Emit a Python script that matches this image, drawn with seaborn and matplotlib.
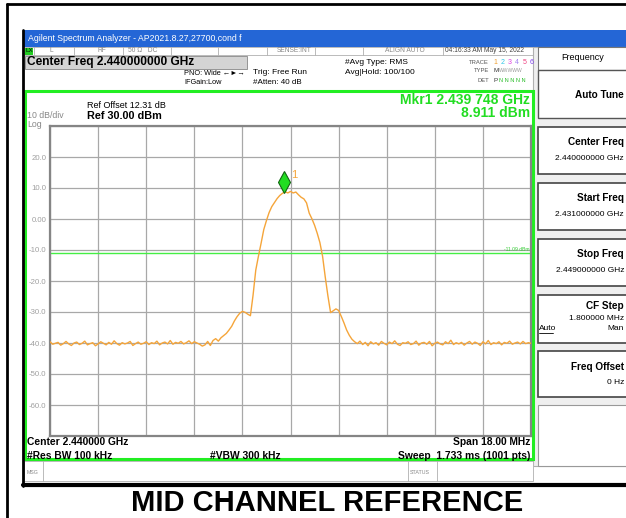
import numpy as np
import matplotlib
matplotlib.use("Agg")
import matplotlib.pyplot as plt
import matplotlib.transforms as mtransforms
from matplotlib.patches import Rectangle
import seaborn as sns

# sweep settings
start_ghz = 2.431
stop_ghz = 2.449
ref_level = 30.0
db_per_div = 10.0

# trace, dBm, every 0.1 MHz from start to stop
trace_dbm = [
    -39.6, -40.4, -40.1, -39.8, -40.7, -40.2, -39.5, -40.3, -40.8, -40.0,
    -39.7, -40.5, -40.1, -39.4, -40.6, -40.2, -39.9, -40.9, -40.3, -39.6,
    -40.1, -40.6, -39.8, -40.4, -39.3, -40.2, -40.7, -39.9, -40.3, -40.0,
    -39.5, -40.8, -40.2, -39.7, -40.4, -40.1, -39.6, -40.5, -39.9, -40.2,
    -39.4, -40.6, -40.0, -39.7, -40.3, -39.2, -40.4, -39.8, -40.1, -39.5,
    -40.3, -39.9, -39.3, -40.2, -39.6, -40.0,
    -40.4, -41.0, -40.6, -39.5, -40.8, -39.2, -38.6, -39.4, -38.3, -37.6,
    -36.9, -35.8, -34.6, -32.9, -31.5,
    -30.4, -29.8, -30.1, -30.7, -31.2,
    -24.5, -16.5, -12.0, -7.8, -3.4, -0.5, 2.1, 4.0, 5.3, 6.6,
    7.6, 8.3, 8.8, 8.4, 8.9, 8.4, 8.7, 7.8, 7.0, 6.5,
    5.2, 1.9, 0.1, -2.0, -4.6, -7.6, -12.0, -18.7, -24.8, -30.2,
    -29.6, -29.0, -29.5, -31.4, -33.5, -35.8, -37.5, -38.8, -39.6,
    -40.2, -39.4, -40.5, -39.8, -40.9, -39.6, -40.3, -39.9, -40.7, -39.5,
    -40.1, -40.6, -39.7, -40.2, -39.3, -40.4, -40.8, -39.9, -40.1, -39.6,
    -40.5, -40.2, -39.4, -40.7, -40.0, -39.8, -40.4, -39.5, -40.9, -40.1,
    -39.7, -40.3, -40.6, -39.6, -40.2, -39.1, -40.5, -39.9, -40.3, -39.8,
    -40.7, -40.0, -39.5, -40.4, -39.7, -40.1, -40.8, -39.6, -40.3, -39.2,
    -40.5, -39.9, -40.2, -39.6, -40.6, -39.8, -40.1, -39.4, -40.4, -40.0,
    -39.7, -40.3, -39.5, -40.2, -39.9, -40.1,
]

# marker and display line
mkr_freq = 2.439748
mkr_level = 8.911
display_line = -11.09

ytick_vals = [-70, -60, -50, -40, -30, -20, -10, 0, 10, 20, 30]
ytick_labels = ["", "-60.0", "-50.0", "-40.0", "-30.0", "-20.0", "-10.0", "0.00", "10.0", "20.0", ""]

softkeys = [
    ("Center Freq", "2.440000000 GHz"),
    ("Start Freq", "2.431000000 GHz"),
    ("Stop Freq", "2.449000000 GHz"),
]

sns.set_style("white")
plt.rcParams["font.family"] = ["Liberation Sans", "DejaVu Sans"]

W, H = 626, 518
fig = plt.figure(figsize=(W / 100, H / 100), dpi=100)

# background layer in pixel coords
bg = fig.add_axes([0, 0, 1, 1])
bg.set_xlim(0, W)
bg.set_ylim(H, 0)
bg.axis("off")


def box(x0, y0, x1, y1, fc="none", ec="none", lw=1.0, z=1):
    bg.add_patch(Rectangle((x0, y0), x1 - x0, y1 - y0, facecolor=fc, edgecolor=ec, lw=lw, zorder=z))


def txt(x, y, s, size=6, color="black", ha="left", weight="normal", z=5):
    bg.text(x, y, s, fontsize=size, color=color, ha=ha, va="center", fontweight=weight, zorder=z)


# outer page frame
bg.plot([7, 7], [4, H], color="black", lw=2)
bg.plot([7, W], [4, 4], color="black", lw=2)

# screenshot box
box(23, 30, W + 5, 485, fc="white", z=0)
bg.plot([23, 23], [30, 486], color="black", lw=2, zorder=6)
bg.plot([23, W], [485, 485], color="black", lw=3, zorder=6)

# title bar
box(24, 30, W + 5, 47, fc="#2466d6", z=1)
txt(28, 38.5, "Agilent Spectrum Analyzer - AP2021.8.27,27700,cond f", size=6.3, color="white")

# status row
box(24, 47, 533, 55, fc="white", ec="#b0b0b0", lw=0.6)
for xs in [34, 74, 123, 171, 218, 267, 315, 363, 443]:
    bg.plot([xs, xs], [47, 55], color="#b0b0b0", lw=0.6)
box(25, 47.5, 33, 54.5, fc="#22cc22")
txt(26, 51, "LX", size=4.5)
txt(50, 51, "L", size=4.8, color="#888888")
txt(97, 51, "RF", size=4.8, color="#888888")
txt(128, 51, "50 \u03a9   DC", size=4.8, color="#888888")
txt(312, 51, "SENSE:INT", size=4.8, color="#888888", ha="right")
txt(405, 51, "ALIGN AUTO", size=4.8, color="#888888", ha="center")
txt(445, 51, "04:16:33 AM May 15, 2022", size=4.8, color="#444444")

# centre freq header
box(25, 56, 247, 69, fc="#d4d4d4", ec="#888888", lw=0.6)
txt(27, 62.5, "Center Freq 2.440000000 GHz", size=8.6, weight="bold")
txt(184, 73, "PNO: Wide \u2190\u25ba\u2192", size=5.3)
txt(184, 83, "IFGain:Low", size=5.3)
txt(253, 72, "Trig: Free Run", size=6)
txt(253, 82, "#Atten: 40 dB", size=5.8)
txt(345, 62, "#Avg Type: RMS", size=6)
txt(345, 72, "Avg|Hold: 100/100", size=6)
txt(489, 62, "TRACE", size=4.2, color="#555555", ha="right")
txt(489, 71, "TYPE", size=4.2, color="#555555", ha="right")
txt(489, 80, "DET", size=4.2, color="#555555", ha="right")
trace_cols = ["#f0a030", "#30c8e8", "#e040e0", "#a080f0", "#f04080", "#8040f0"]
for i, c in enumerate(trace_cols):
    txt(493 + i * 7.4, 62, str(i + 1), size=5, color=c)
txt(493, 71, "M", size=4.5, color="#333333")
txt(499, 71, "WWWWW", size=3.6, color="#999999")
txt(493, 80, "P", size=4.5, color="#333333")
txt(499, 80, "N N N N N", size=4, color="#22bb22")

# right softkey panel
box(533, 47, W + 5, 466, fc="#efefef", ec="#b0b0b0", lw=0.8)
box(538, 47, W + 5, 70, fc="white", ec="#777777", lw=0.8)
txt(583, 58, "Frequency", size=6.5, ha="center")
box(538, 70, W + 5, 118, fc="white", ec="#555555", lw=1.0)
txt(624, 95, "Auto Tune", size=7.2, weight="bold", ha="right")
tops = [127, 183, 239]
for (title, val), t in zip(softkeys, tops):
    box(538, t, W + 5, t + 47, fc="white", ec="#444444", lw=1.2)
    txt(624, t + 15, title, size=7.2, weight="bold", ha="right")
    txt(624, t + 32, val, size=6, ha="right")
box(538, 295, W + 5, 343, fc="white", ec="#444444", lw=1.2)
txt(624, 306, "CF Step", size=7.2, weight="bold", ha="right")
txt(624, 318, "1.800000 MHz", size=6, ha="right")
txt(624, 329, "Man", size=6, ha="right")
txt(539, 329, "Auto", size=6)
bg.plot([539, 553], [333, 333], color="black", lw=0.6)
box(538, 351, W + 5, 397, fc="white", ec="#444444", lw=1.2)
txt(624, 367, "Freq Offset", size=7.2, weight="bold", ha="right")
txt(624, 383, "0 Hz", size=6, ha="right")
box(538, 405, W + 5, 466, fc="white", ec="#999999", lw=0.8)

# message row
box(24, 461, 533, 481, fc="white", ec="#b0b0b0", lw=0.6)
bg.plot([43, 43], [461, 481], color="#b0b0b0", lw=0.6)
bg.plot([408, 408], [461, 481], color="#b0b0b0", lw=0.6)
bg.plot([437, 437], [461, 481], color="#b0b0b0", lw=0.6)
txt(27, 472, "MSG", size=3.8, color="#888888")
txt(410, 472, "STATUS", size=3.8, color="#888888")

# green display frame and annotations
box(25, 91, 533, 459, ec="#22ee22", lw=2.2, z=4)
txt(27, 116, "10 dB/div", size=6.3, color="#888888")
txt(27, 124.5, "Log", size=6.3, color="#888888")
txt(87, 105, "Ref Offset 12.31 dB", size=6.5)
txt(87, 116, "Ref 30.00 dBm", size=7.8, weight="bold")
txt(530, 100, "Mkr1 2.439 748 GHz", size=10, color="#22dd22", ha="right", weight="bold")
txt(530, 113, "8.911 dBm", size=10, color="#22dd22", ha="right", weight="bold")
txt(27, 442, "Center 2.440000 GHz", size=7.4, weight="bold")
txt(27, 456, "#Res BW 100 kHz", size=7.4, weight="bold")
txt(210, 456, "#VBW 300 kHz", size=7.4, weight="bold")
txt(530, 442, "Span 18.00 MHz", size=7.4, weight="bold", ha="right")
txt(530, 456, "Sweep  1.733 ms (1001 pts)", size=7.4, weight="bold", ha="right")

# caption under the screenshot
txt(327, 503, "MID CHANNEL REFERENCE", size=21, weight="bold", ha="center")

# trace graticule
ax = fig.add_axes([50 / W, (H - 436) / H, 481 / W, 310 / H])
ax.set_zorder(3)
freq = np.linspace(start_ghz, stop_ghz, len(trace_dbm))
sns.lineplot(x=freq, y=trace_dbm, ax=ax, color="#f5a53a", lw=1.0, zorder=3)
ax.axhline(display_line, color="#44ee44", lw=1.0, zorder=2)
ax.text(stop_ghz - 0.00005, display_line + 1.2, f"{display_line:.2f} dBm", fontsize=3.6,
        color="#33cc33", ha="right", va="center")

mk_tr = mtransforms.offset_copy(ax.transData, fig=fig, x=0, y=7, units="points")
ax.plot([mkr_freq], [mkr_level], marker="d", ms=11, mfc="#22dd22", mec="#116611",
        mew=0.8, transform=mk_tr, zorder=5, clip_on=False)
tx_tr = mtransforms.offset_copy(ax.transData, fig=fig, x=5.5, y=12, units="points")
ax.text(mkr_freq, mkr_level, "1", fontsize=8, color="#f5a53a", transform=tx_tr, va="center")

ax.set_xlim(start_ghz, stop_ghz)
ax.set_ylim(ref_level - 10 * db_per_div, ref_level)
ax.set_xticks(np.linspace(start_ghz, stop_ghz, 11))
ax.set_xticklabels([])
ax.set_yticks(ytick_vals)
ax.set_yticklabels(ytick_labels)
ax.tick_params(axis="both", length=0)
ax.tick_params(axis="y", pad=2.5, labelsize=5.6, labelcolor="#a0a0a0")
ax.grid(True, color="#a8a8a8", lw=0.9)
ax.set_xlabel("")
ax.set_ylabel("")
for sp in ax.spines.values():
    sp.set_color("#858585")
    sp.set_linewidth(1.6)

fig.savefig("out.png", dpi=100)
